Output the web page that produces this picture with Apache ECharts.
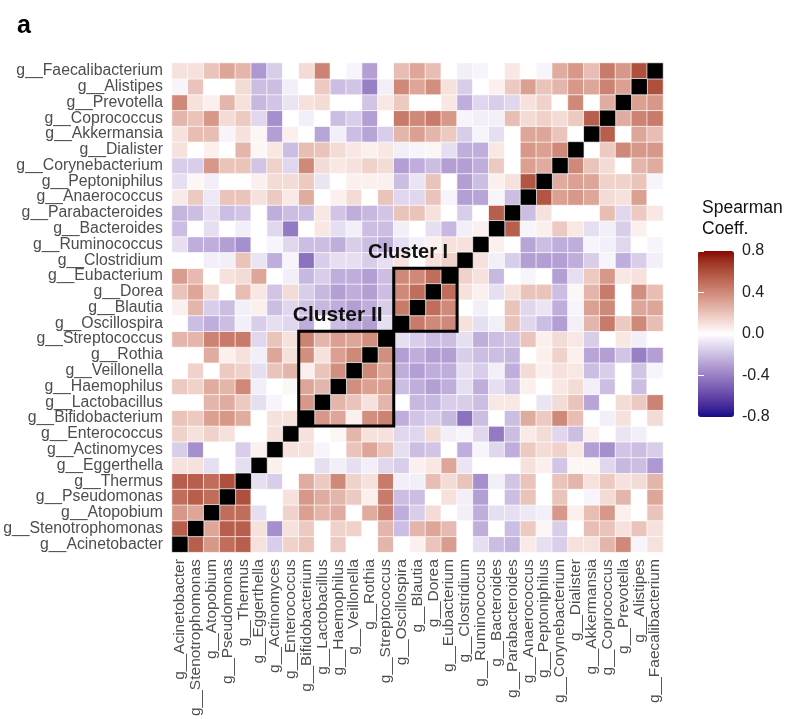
<!DOCTYPE html>
<html>
<head>
<meta charset="utf-8">
<script src="https://cdn.jsdelivr.net/npm/echarts@6/dist/echarts.min.js"></script>
<style>html,body{margin:0;padding:0;background:#fff}#c{width:798px;height:719px}</style>
</head>
<body>
<div id="c"></div>
<script>
// Taxa, ordered as on the x axis (left to right) and the y axis (bottom to top)
const taxa = ['g__Acinetobacter','g__Stenotrophomonas','g__Atopobium','g__Pseudomonas','g__Thermus',
  'g__Eggerthella','g__Actinomyces','g__Enterococcus','g__Bifidobacterium','g__Lactobacillus',
  'g__Haemophilus','g__Veillonella','g__Rothia','g__Streptococcus','g__Oscillospira','g__Blautia',
  'g__Dorea','g__Eubacterium','g__Clostridium','g__Ruminococcus','g__Bacteroides','g__Parabacteroides',
  'g__Anaerococcus','g__Peptoniphilus','g__Corynebacterium','g__Dialister','g__Akkermansia',
  'g__Coprococcus','g__Prevotella','g__Alistipes','g__Faecalibacterium'];

// Lower triangle of the Spearman matrix: corrLower[i][j] = rho(taxa[i], taxa[j]), j < i
const corrLower = [
  [],
  [0.55],
  [0.35,0.3],
  [0.5,0.55,0.5],
  [0.55,0.55,0.5,0.6],
  [0.1,0.1,-0.1,0.0,-0.1],
  [-0.15,-0.35,0.0,0.0,-0.15,0.05],
  [0.15,0.1,0.15,0.1,0.0,0.0,0.1],
  [0.2,0.18,0.32,0.35,0.28,0.0,0.1,0.1],
  [0.0,0.0,0.25,0.28,0.18,-0.1,-0.03,0.0,0.35],
  [0.18,0.15,0.28,0.25,0.4,-0.05,0.0,0.03,0.3,0.25],
  [0.0,0.15,0.0,0.18,0.15,-0.1,0.2,0.25,0.05,0.2,0.38],
  [0.0,0.0,0.28,0.05,0.1,-0.05,0.3,0.1,0.38,0.1,0.32,0.4],
  [0.25,0.25,0.42,0.45,0.45,-0.12,0.2,0.1,0.42,0.25,0.32,0.3,0.38],
  [0.0,-0.2,-0.25,-0.2,-0.05,-0.15,-0.1,-0.12,-0.25,0.0,-0.2,-0.25,-0.3,-0.1],
  [0.05,0.25,-0.15,-0.2,-0.05,0.05,-0.2,-0.12,-0.18,-0.22,-0.25,-0.3,-0.25,-0.15,0.45],
  [0.2,0.3,0.12,0.0,0.22,0.08,-0.18,0.12,-0.15,-0.22,-0.3,-0.25,-0.3,-0.2,0.4,0.5],
  [0.33,0.23,0.0,0.1,0.12,0.3,0.0,-0.05,-0.22,-0.15,-0.25,-0.25,-0.3,-0.2,0.4,0.4,0.5],
  [0.0,0.0,-0.05,-0.05,0.2,-0.08,-0.25,-0.03,-0.45,-0.15,-0.1,-0.1,-0.15,-0.1,0.1,0.0,0.1,0.15],
  [-0.1,-0.25,-0.25,-0.3,-0.35,0.0,-0.03,-0.12,-0.2,-0.2,-0.25,-0.15,-0.2,-0.25,-0.1,-0.05,0.05,0.1,0.1],
  [-0.2,0.0,-0.1,0.0,-0.05,0.0,-0.12,-0.42,0.0,0.08,-0.1,-0.05,-0.2,-0.2,-0.05,0.0,-0.1,-0.22,-0.05,0.05],
  [-0.23,-0.2,-0.1,-0.2,-0.18,0.0,-0.25,-0.2,-0.2,0.08,-0.18,-0.25,-0.22,-0.18,0.2,0.2,0.1,0.0,-0.15,0.0,0.55],
  [0.07,0.18,-0.07,0.2,0.2,0.1,0.18,0.07,0.28,0.0,0.05,0.12,0.0,0.2,-0.12,-0.12,0.2,-0.03,-0.3,-0.28,-0.03,-0.2],
  [-0.1,0.03,-0.05,0.0,0.0,0.05,0.12,0.12,0.18,-0.08,0.0,0.05,0.05,0.05,-0.2,-0.08,0.2,0.0,-0.3,-0.2,0.05,0.1,0.58],
  [-0.15,-0.15,0.35,0.2,0.2,-0.18,0.15,-0.12,0.4,0.12,0.08,0.1,0.15,0.12,-0.3,-0.25,-0.2,-0.3,-0.3,-0.25,0.18,0.0,0.32,0.28],
  [0.1,0.0,0.05,0.0,0.25,0.03,0.08,-0.2,0.22,0.2,0.12,0.08,0.05,0.08,-0.05,-0.03,0.03,-0.1,-0.25,-0.25,0.08,0.0,0.35,0.32,0.4],
  [0.1,0.22,0.22,-0.03,0.1,0.03,-0.3,0.05,0.0,-0.28,-0.05,-0.2,-0.28,-0.15,0.25,0.32,0.25,0.18,-0.15,-0.03,-0.1,0.0,0.3,0.3,0.2,0.0],
  [0.25,0.2,0.35,0.12,0.18,-0.12,-0.35,0.0,-0.05,0.0,-0.2,-0.15,-0.3,0.0,0.45,0.4,0.45,0.35,-0.03,-0.05,-0.05,0.22,0.12,0.15,0.12,0.18,0.55],
  [0.4,0.1,0.05,0.25,0.1,-0.22,-0.18,-0.08,0.1,0.12,0.0,0.0,-0.18,0.08,0.18,0.0,0.0,0.08,-0.25,-0.12,-0.15,-0.12,0.1,0.15,0.0,0.4,0.0,0.28],
  [-0.03,0.2,0.0,0.0,0.12,-0.2,-0.2,-0.05,0.0,0.18,-0.2,-0.18,-0.4,-0.05,0.4,0.3,0.38,0.1,-0.15,0.0,0.05,0.18,0.32,0.2,0.25,0.35,0.3,0.42,0.32],
  [0.1,0.1,0.2,0.3,0.25,-0.32,-0.15,0.0,0.12,0.42,0.0,-0.03,-0.3,0.0,0.22,0.3,0.22,0.0,-0.05,-0.03,0.0,0.08,0.0,-0.03,0.28,0.35,0.22,0.45,0.35,0.6]
];

// Clusters (first and last taxon of each block)
const clusterNames = ['Cluster I', 'Cluster II'];
const clusterFrom = ['g__Oscillospira', 'g__Bifidobacterium'];
const clusterTo = ['g__Eubacterium', 'g__Streptococcus'];

// ---------- build ----------
const n = taxa.length;
const heatData = [];
const diagData = [];
for (let i = 0; i < n; i++) {
  for (let j = 0; j < n; j++) {
    if (i === j) { diagData.push([j, i, 1]); continue; }
    const v = i > j ? corrLower[i][j] : corrLower[j][i];
    heatData.push([j, i, v]);
  }
}
const clusterData = clusterNames.map((nm, k) => [taxa.indexOf(clusterFrom[k]), taxa.indexOf(clusterTo[k]), k]);
const clusterLabelStyle = [
  {align: 'right', side: 'right', dx: -9, dy: -6, size: 20},
  {align: 'left', side: 'left', dx: -6, dy: -6, size: 21}
];

// Lab interpolation (like ggplot's scale_fill_gradient2)
function hex2rgb(h){h=h.replace('#','');return [0,2,4].map(k=>parseInt(h.substr(k,2),16)/255);}
function lin(c){return c<=0.04045?c/12.92:Math.pow((c+0.055)/1.055,2.4);}
function unlin(c){return c<=0.0031308?12.92*c:1.055*Math.pow(c,1/2.4)-0.055;}
function rgb2lab(rgb){
  const [r,g,b]=rgb.map(lin);
  let X=(0.4124*r+0.3576*g+0.1805*b)/0.95047, Y=(0.2126*r+0.7152*g+0.0722*b), Z=(0.0193*r+0.1192*g+0.9505*b)/1.08883;
  const f=t=>t>0.008856?Math.cbrt(t):(7.787*t+16/116);
  const fx=f(X),fy=f(Y),fz=f(Z);
  return [116*fy-16,500*(fx-fy),200*(fy-fz)];
}
function lab2hex(lab){
  const fy=(lab[0]+16)/116, fx=fy+lab[1]/500, fz=fy-lab[2]/200;
  const fi=t=>t*t*t>0.008856?t*t*t:(t-16/116)/7.787;
  const X=fi(fx)*0.95047, Y=fi(fy), Z=fi(fz)*1.08883;
  let r=3.2406*X-1.5372*Y-0.4986*Z, g=-0.9689*X+1.8758*Y+0.0415*Z, b=0.0557*X-0.2040*Y+1.0570*Z;
  return '#'+[r,g,b].map(c=>{c=Math.round(Math.min(1,Math.max(0,unlin(c)))*255);return c.toString(16).padStart(2,'0');}).join('');
}
function labMix(a,b,t){const A=rgb2lab(hex2rgb(a)),B=rgb2lab(hex2rgb(b));return lab2hex(A.map((v,k)=>v+(B[k]-v)*t));}
const lowCol='#14098a', midCol='#ffffff', highCol='#880404';
const stops=[];
const NS=12;
for(let k=NS;k>=1;k--) stops.push(labMix(midCol,lowCol,k/NS));
stops.push(midCol);
for(let k=1;k<=NS;k++) stops.push(labMix(midCol,highCol,k/NS));

const FONT = 'Liberation Sans, Arial, Helvetica, sans-serif';
const chart = echarts.init(document.getElementById('c'), null, {renderer:'canvas'});
chart.setOption({
  animation: false,
  backgroundColor: '#fff',
  title: [
    {text: 'a', left: 12, top: 9, textStyle: {fontFamily: FONT, fontSize: 25, fontWeight: 'bold', color: '#000'}},
    {text: 'Spearman\nCoeff.', left: 697, top: 193, textStyle: {fontFamily: FONT, fontSize: 17.5, fontWeight: 'normal', color: '#111', lineHeight: 21}}
  ],
  grid: [
    {left: 172, top: 63, width: 491, height: 490},
    {left: 698, top: 251, width: 36, height: 166}
  ],
  xAxis: [
    {type: 'category', data: taxa, gridIndex: 0, axisLine: {show: false}, axisTick: {show: false}, splitLine: {show: false},
     axisLabel: {rotate: 90, interval: 0, margin: 7, fontFamily: FONT, fontSize: 15.5, color: '#4d4d4d'}},
    {type: 'value', gridIndex: 1, show: false, min: 0, max: 1}
  ],
  yAxis: [
    {type: 'category', data: taxa, gridIndex: 0, axisLine: {show: false}, axisTick: {show: false}, splitLine: {show: false},
     axisLabel: {interval: 0, margin: 9, fontFamily: FONT, fontSize: 15.8, color: '#4d4d4d'}},
    {type: 'value', gridIndex: 1, min: -0.8, max: 0.8, interval: 0.4, position: 'right', z: 10,
     axisLine: {show: false}, splitLine: {show: false},
     axisTick: {show: true, inside: true, length: 6, lineStyle: {color: '#fff', width: 1}},
     axisLabel: {margin: 8, fontFamily: FONT, fontSize: 16, color: '#222', formatter: v => v.toFixed(1)}},
    {type: 'value', gridIndex: 1, min: -0.8, max: 0.8, interval: 0.4, position: 'left', z: 10,
     axisLine: {show: false}, splitLine: {show: false}, axisLabel: {show: false},
     axisTick: {show: true, inside: true, length: 6, lineStyle: {color: '#fff', width: 1}}}
  ],
  visualMap: {
    type: 'continuous', min: -0.8, max: 0.8, seriesIndex: 0, calculable: false, hoverLink: false,
    orient: 'vertical', left: 698, top: 251, itemWidth: 36, itemHeight: 166, padding: 0,
    inRange: {color: stops}
  },
  series: [
    {type: 'heatmap', xAxisIndex: 0, yAxisIndex: 0, data: heatData,
     itemStyle: {borderColor: '#fff', borderWidth: 0.7}},
    {type: 'heatmap', xAxisIndex: 0, yAxisIndex: 0, data: diagData,
     itemStyle: {color: '#000', borderColor: '#fff', borderWidth: 0.7}},
    {type: 'custom', xAxisIndex: 0, yAxisIndex: 0, data: clusterData, z: 5,
     renderItem: function (params, api) {
       const a = api.value(0), b = api.value(1), k = api.value(2);
       const sz = api.size([1, 1]);
       const p0 = api.coord([a, a]);
       const p1 = api.coord([b, b]);
       const x0 = p0[0] - sz[0] / 2, y1 = p0[1] + sz[1] / 2;
       const x1 = p1[0] + sz[0] / 2, y0 = p1[1] - sz[1] / 2;
       const st = clusterLabelStyle[k];
       const tx = (st.side === 'right' ? x1 : x0) + st.dx;
       return {
         type: 'group',
         children: [
           {type: 'rect', shape: {x: x0, y: y0, width: x1 - x0, height: y1 - y0},
            style: {fill: 'none', stroke: '#000', lineWidth: 3}},
           {type: 'text', style: {text: clusterNames[k], x: tx, y: y0 + st.dy, textAlign: st.align, textVerticalAlign: 'bottom',
             font: 'bold ' + st.size + 'px ' + FONT, fill: '#111'}}
         ]
       };
     }}
  ]
});
</script>
</body>
</html>
